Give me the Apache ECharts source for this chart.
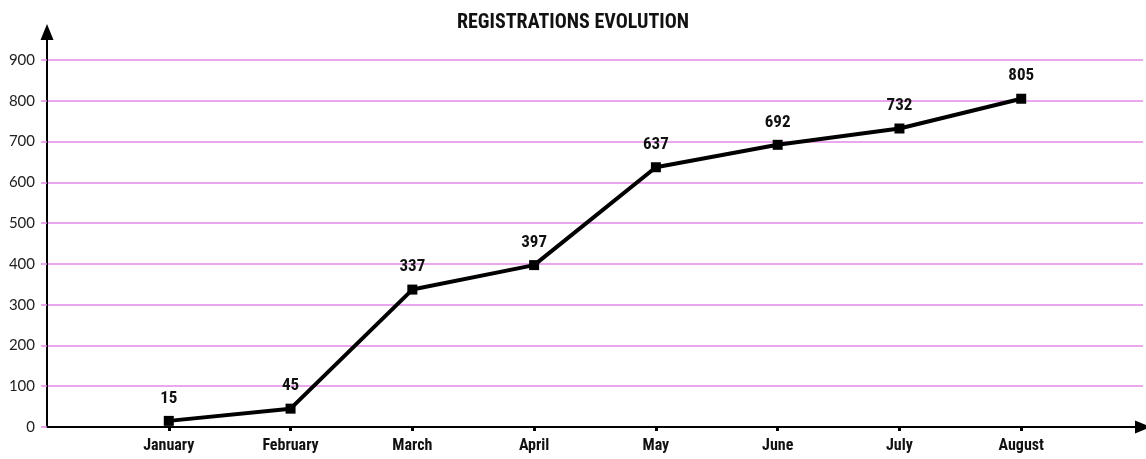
<!DOCTYPE html>
<html>
<head>
<meta charset="utf-8">
<script src="https://cdn.jsdelivr.net/npm/echarts@6/dist/echarts.min.js"></script>
<style>html,body{margin:0;padding:0;background:#fff}#c{width:1146px;height:459px}</style>
</head>
<body>
<div id="c"></div>
<script>
const categories = ['January','February','March','April','May','June','July','August'];
const registrations = [15, 45, 337, 397, 637, 692, 732, 805];
const yTicks = [0,100,200,300,400,500,600,700,800,900];

const axisCats = [''].concat(categories, ['']);
const seriesData = [null].concat(registrations, [null]);
const condensed = '"Roboto Condensed", "Open Sans Condensed", sans-serif';
const gridColor = '#e48ae4';

const chart = echarts.init(document.getElementById('c'));
chart.setOption({
  animation: false,
  title: {
    text: 'REGISTRATIONS EVOLUTION',
    left: 'center', top: 8,
    textStyle: { fontFamily: condensed, fontWeight: 'bold', fontSize: 20, color: '#111' }
  },
  grid: [
    { left: 47, right: 0, top: 60, bottom: 32 },
    { left: 47, right: 0, top: 32, bottom: 32 }
  ],
  xAxis: [{
    gridIndex: 0,
    type: 'category',
    boundaryGap: false,
    data: axisCats,
    axisLine: { show: true, symbol: ['none','triangle'], symbolSize: [13, 16], lineStyle: { color: '#000', width: 2 } },
    axisTick: { show: true, inside: false, length: 4, interval: (i, v) => v !== '', lineStyle: { color: '#000', width: 3 } },
    axisLabel: { interval: 0, margin: 11, fontFamily: condensed, fontWeight: 'bold', fontSize: 16, color: '#111' },
    splitLine: { show: false }
  }, {
    gridIndex: 1, type: 'category', data: axisCats, show: false
  }],
  yAxis: [{
    gridIndex: 0,
    type: 'value',
    min: yTicks[0], max: yTicks[yTicks.length-1], interval: 100,
    axisLine: { show: false },
    axisTick: { show: true, length: 6, lineStyle: { color: gridColor, width: 1.5 } },
    axisLabel: { margin: 12, fontFamily: 'Lato, sans-serif', fontSize: 15, color: '#222' },
    splitLine: { show: true, lineStyle: { color: gridColor, width: 1.5 } }
  }, {
    gridIndex: 1,
    type: 'value', min: 0, max: 1,
    axisLine: { show: true, symbol: ['none','triangle'], symbolSize: [13, 16], lineStyle: { color: '#000', width: 2 } },
    axisTick: { show: false }, axisLabel: { show: false }, splitLine: { show: false }
  }],
  series: [{
    type: 'line',
    xAxisIndex: 0, yAxisIndex: 0,
    data: seriesData,
    connectNulls: false,
    symbol: 'rect', symbolSize: 10,
    itemStyle: { color: '#000' },
    lineStyle: { color: '#000', width: 4 },
    label: { show: true, position: 'top', distance: 9, fontFamily: condensed, fontWeight: 'bold', fontSize: 17, color: '#111' }
  }]
});
</script>
</body>
</html>
